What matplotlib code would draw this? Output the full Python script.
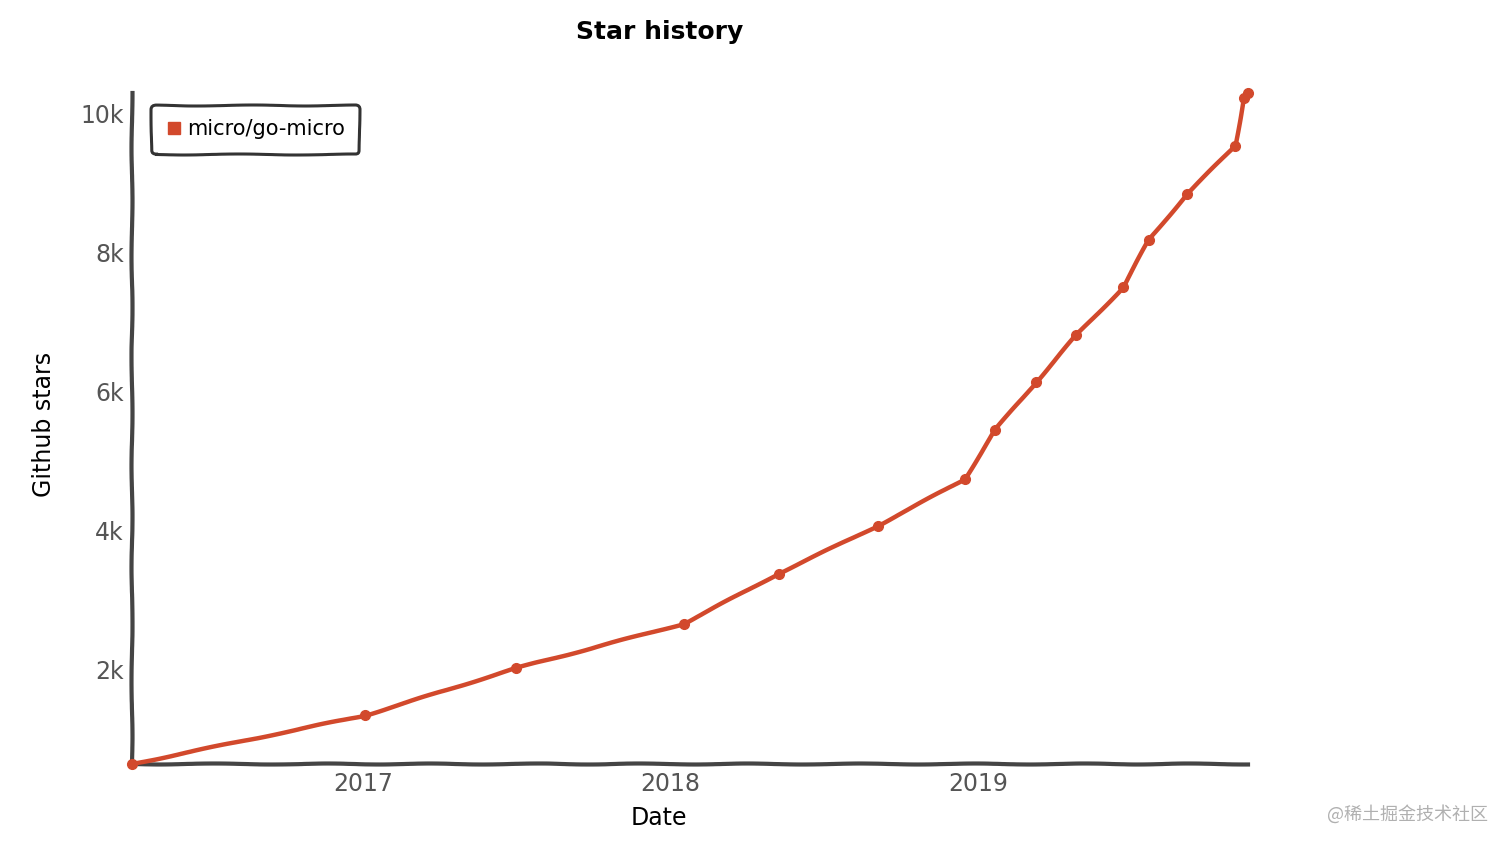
import matplotlib
matplotlib.use("Agg")
import matplotlib.pyplot as plt
import matplotlib.dates as mdates
from matplotlib.lines import Line2D
import numpy as np

# star history samples for micro/go-micro
dates = ["2016-04-02", "2017-01-04", "2017-07-02", "2018-01-17", "2018-05-09",
         "2018-09-04", "2018-12-16", "2019-01-21", "2019-03-11", "2019-04-27",
         "2019-06-22", "2019-07-22", "2019-09-06", "2019-11-02", "2019-11-12",
         "2019-11-17"]
stars = [640, 1340, 2020, 2660, 3380, 4070, 4740, 5450, 6140, 6810,
         7500, 8180, 8850, 9540, 10230, 10300]
repo = "micro/go-micro"
yticks = [2000, 4000, 6000, 8000, 10000]
ytick_labels = ["2k", "4k", "6k", "8k", "10k"]

RED = "#d2492c"
AXIS = "#444444"

plt.xkcd(scale=0.5, length=120, randomness=2)
plt.rcParams["font.family"] = ["DejaVu Sans"]
plt.rcParams["path.effects"] = []

x = np.array(dates, dtype="datetime64[D]")

fig = plt.figure(figsize=(15.12, 8.48), dpi=100)
ax = fig.add_axes([132/1512, 1-764/848, (1248-132)/1512, (764-93)/848])

ax.plot(x, stars, color=RED, lw=3.2, marker="o", ms=7, mec=RED,
        zorder=3, clip_on=False)

ax.set_xlim(x[0], x[-1])
ax.set_ylim(stars[0], stars[-1])
ax.set_yticks(yticks)
ax.set_yticklabels(ytick_labels)
ax.xaxis.set_major_locator(mdates.YearLocator())
ax.xaxis.set_major_formatter(mdates.DateFormatter("%Y"))

for s in ["top", "right"]:
    ax.spines[s].set_visible(False)
for s in ["left", "bottom"]:
    ax.spines[s].set_color(AXIS)
    ax.spines[s].set_linewidth(3)
ax.tick_params(length=0, labelsize=17, colors="#555555", pad=6)

leg = ax.legend(handles=[Line2D([], [], color=RED, marker="s", ls="none", ms=8)],
                labels=[repo], loc="upper left", bbox_to_anchor=(0.008, 0.998),
                fontsize=15, frameon=True, fancybox=True, handletextpad=0.2,
                borderpad=0.7, handlelength=0.8)
leg.get_frame().set_edgecolor("black")
leg.get_frame().set_linewidth(2.2)

fig.text(660/1512, 1-32/848, "Star history", ha="center", va="center",
         fontsize=18, fontweight="bold")
fig.text(659/1512, 1-818/848, "Date", ha="center", va="center", fontsize=17)
fig.text(44/1512, 1-424/848, "Github stars", ha="center", va="center",
         fontsize=17, rotation=90)
fig.text(1488/1512, 1-814/848, "@稀土掘金技术社区", ha="right", va="center",
         fontsize=13, color="#b0b0b0", family=["Noto Sans CJK SC", "DejaVu Sans"])

fig.savefig("out.png", dpi=100, facecolor="white")
